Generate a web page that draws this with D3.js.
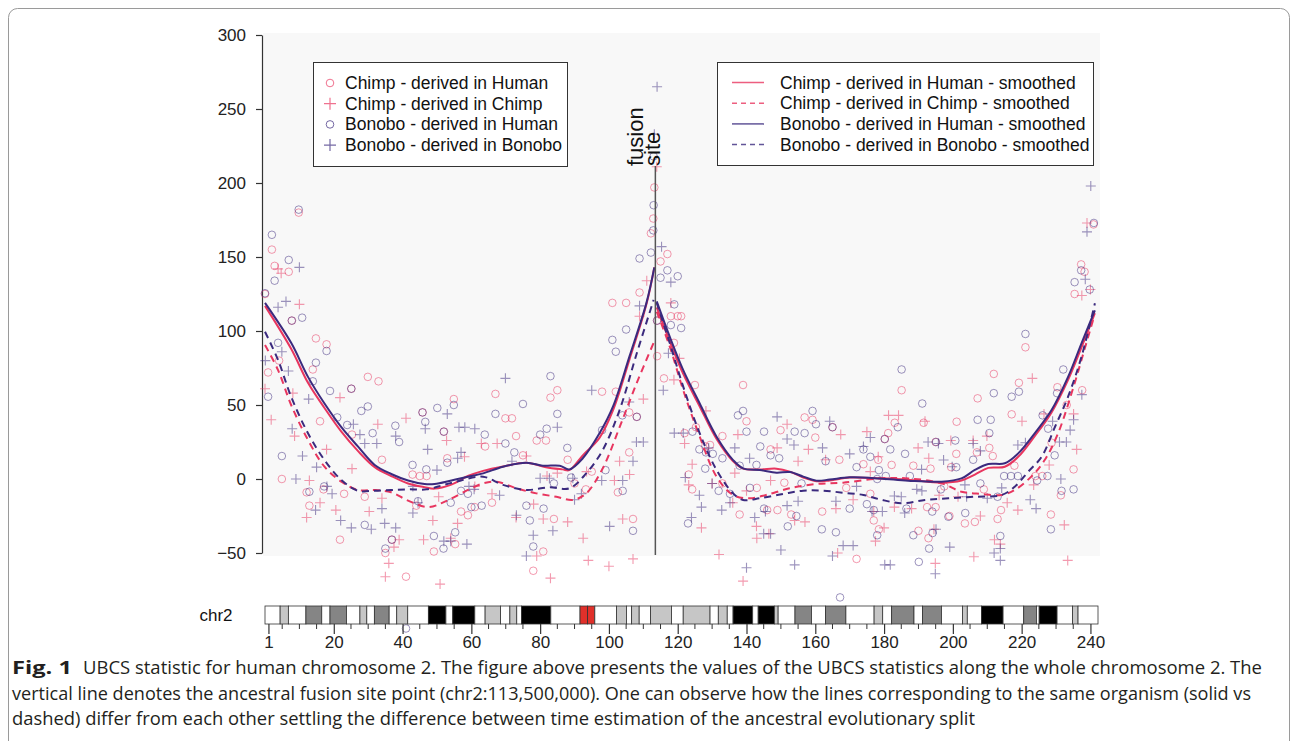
<!DOCTYPE html>
<html><head><meta charset="utf-8">
<script src="https://cdn.jsdelivr.net/npm/d3@7"></script>
<style>
body{margin:0;background:#fff;}
svg{display:block;}
</style></head>
<body>
<svg id="chart" width="1295" height="741"></svg>
<script>
// ---------- data ----------
const yTicks = [-50, 0, 50, 100, 150, 200, 250, 300];
const xMajorTicks = [1, 20, 40, 60, 80, 100, 120, 140, 160, 180, 200, 220, 240];
const fusionSite = 113.5;
const chromLength = 242.2;

// [position (Mb), UBCS value]
const chimpDerivedHuman = [
[9.8,180],[2,155],[2.8,144],[6.9,140],[0,125],[7.8,107],[14.8,95],[17.9,91],[4.1,80],[13.9,74],[0.9,72],[29.9,69],[33,66],[25.1,61],[16,39],[25.3,30],[4.9,0],[34,13],[42.9,3],[45.8,45],[54.9,54],[52,32],[53,14],[45,2],[47,2],[36.9,-41],[35,-50],[41,-66],[21.8,-41],[29,-12],[49.1,-49],[55.3,-44],[12.9,-18],[12.1,-9],[23,-10],[17,-7],[44,-18],[57,-22],
[83,55],[85,60],[69.9,41],[71.8,41],[67,57.5],[73,29],[79,26],[81.7,26],[88,13],[66,-16],[61,-19],[59,-24.5],[84,-27],[80.9,-49],[78,-62],[93.3,-7],[101,119],[105,119],[98,59],[102,59],[105.9,45],[108.1,42],[105.9,18],[102.6,-9],[107,-27],[112.9,176],[112.2,166],[113.2,197],[108.9,126],[64,22],[75,16],[90,-3],[95,5],
[115,147],[117,152],[118,110],[120,110],[121,110],[114,107],[118.9,92],[114,83],[116,68],[125,63.5],[122,31],[125.3,35],[129.4,23],[123.2,3],[124.2,-7],[133,29],[138,-24],[139,63.5],[140,39],[149,-21],[149.9,33],[156.9,41.6],[159.2,40],[160,28],[165,35],[151,-2.5],[153,-24],[162,-22],[172,-54],[169,-6],[167,13],[174,10],[176,-10],[177,-28],[146,-21],[143,-6],[147,20],[133,-3],[128,22],
[185.1,60],[211.9,71],[219.2,65],[207.2,54.5],[217.1,43.7],[201.1,38.7],[183.1,38],[181.2,31],[180.2,27],[182.2,9.5],[178.3,13],[191.5,38],[195,25],[201,17],[207,18],[210.6,21],[211.6,15.5],[209,-7],[221.1,89],[228.7,24.5],[230.4,62],[233.1,50],[237.6,60],[235.1,6.5],[231.4,-11],[228.5,-24],[237.3,145],[238.3,140],[235.4,125],[240.9,172],[217.9,9],[214,-21],[213,-27],[206.4,-29],[203.5,-30],[199,-25],[195,-19],[192.5,-19],[192.9,-40],[190,-35],[178.5,-34],[188.5,9],[193.5,7],[197.5,-5],[199.5,8],[224,2],[226,2]
];
const chimpDerivedChimp = [
[4.7,139],[10,118],[3.8,142],[0,61],[1.8,40],[8.6,29],[8.1,58],[21.8,55],[17.9,20],[12.9,-1],[16,-16],[12.1,-26],[20.6,-21],[25.3,7],[32.8,37],[41,41],[30.3,-22],[34,-13],[36,-57],[35,-66],[39,-41],[46.1,-41],[48.8,-28],[50.9,-71],[54,-40],[58,15],[52.8,26],[56,-30],[37.5,-46],[50.5,-12],
[111,134],[110,54],[108.9,110],[113.9,211],[103.1,12],[106,3],[101.6,-1],[104,-27],[100,-59],[107,-54],[62.9,24],[67.5,24],[76,15.5],[73,-26],[78.1,-17],[80.9,-27],[88,-29],[79,-52],[83,-67],[93.5,5],[82,2],[85,4],[61,-5],[66,-10],[92.5,-40],[94,-55],
[118,119],[120.5,81.5],[118.9,67],[122,24],[128.2,46],[124.2,10],[123.2,-4],[126.9,-33],[130,-3],[132,-51],[139,-69],[137.5,30],[136.6,4],[136,-16],[140,-8],[142.9,-32],[143,-40],[147,-1],[148.9,21],[151.8,37],[146.5,-37],[154,-28],[157,-29],[155,12],[158,20],[163,13],[166,-20],[166.5,-50],[167.4,30],[175,32],[176,5],[177,-22],[177.5,-42],[171,-14],
[239,173],[237.5,124],[240,128],[223.1,68],[220.1,39],[181.3,43],[184.2,43],[191.9,39],[178.3,15],[189.9,21],[193,14],[199.4,26],[205.9,26],[209.9,29],[228,9.5],[232.4,-31],[233.4,-55],[218.9,-21],[215.8,-16],[212.1,-41],[213.8,-44],[206.1,-52.5],[194.9,-57],[194.5,-34],[180,-33],[183,-19],[188,-20],[196,-11],[201.5,-12],[208,-25],[226.5,44],[223.5,-4],[235.1,44],[236,20]
];
const bonoboDerivedHuman = [
[9.8,182],[2,165],[6.9,148],[2.8,134],[0,125.5],[7.8,107],[10.8,109],[17.9,86.5],[3.8,92],[14.8,78.6],[13.9,66],[0.9,55.6],[18.9,59.5],[25.1,61],[21,41.6],[28,46],[29.9,49],[23.9,36.5],[4.9,15.5],[31.3,31],[37.9,36],[39,25],[42.9,9.5],[45.8,45],[46.6,38.6],[50.1,48],[54.9,50],[52,32],[53,11],[46.9,6.5],[36.9,-41],[35,-47],[29,-31],[49.1,-38.5],[51.9,-47],[55.3,-36],[12.9,-8.6],[17.2,-5],[54,-16],[44.5,-15],[57,-8],[41,-101],
[83,69.5],[85,44],[67,44],[75,50.7],[63.9,30],[80,30],[81.9,34],[87.9,21],[69.9,24],[72.5,18],[59,-10],[63,-18],[76,-18],[77,-28],[81,-20],[78,-45.6],[84,-3],[89,1],[101,94],[102,86],[105,101],[103.9,43],[108.1,42],[98,33],[99,6],[107,-35],[113,218],[112.9,168],[112.2,153],[108.9,149],[104,-8],[60,-19],
[113,185],[117,141],[115,136],[120,137],[119,118],[118,104],[121,102],[114,107],[124.3,32],[126.3,20],[128.2,18],[128,7],[130.2,17],[133,14],[131.9,-8],[123,-30],[135.2,-10],[139,46],[137.5,43],[140,32],[138,9],[142.9,9.5],[141,-6],[145.1,-20],[145.1,32],[144,22],[147,16],[149.5,14],[154,32],[156.9,31],[159.2,46],[160.2,37],[165,35],[163,12],[156,-3],[154.5,-25],[152,-32],[161.9,-34],[166,-36],[167.2,-80],[170,-20],[172,8],[174,20],[176,15],[178,0],[177,-21],[175,-17],
[185.1,74],[211.9,58],[219.2,59],[217.1,55.6],[191.1,51],[207.2,40],[211,40],[184,35],[186.1,17],[180.2,27],[181.8,20],[178.5,6],[195.1,25],[200.7,26],[205.9,13],[210.6,31],[201,8],[208,-3],[213,-12],[226.1,43],[227.7,34],[229.6,16],[232.1,74],[230.3,58],[221.1,98],[231.6,-8],[235.1,-7],[228.5,-34],[237.3,141],[235.4,133],[241,173],[239.8,128],[224.5,-1],[227.5,2],[214.9,2],[216.9,2],[218.9,2],[213.8,-38.5],[203.6,-23],[198.7,-25.5],[194,-22],[194.1,-36.5],[193.1,-47],[190.1,-56],[188.5,-38],[186.5,-20],[178,-38],[180.5,2],[187.5,2],[196.5,-7]
];
const bonoboDerivedBonobo = [
[10,143],[3.8,116],[6.1,120],[4.9,86],[0.1,80],[6.8,73],[12.7,54],[7.9,34],[10.9,15.5],[15,8],[9,0],[14.7,-21],[22,-28],[25.1,-33],[30.9,-34],[34.8,-30],[34,-20],[27.6,30],[29,24],[32.5,24],[25.7,37],[38,29],[43,-5],[47.3,20],[46.6,34],[53,44],[56.4,35],[58.1,35],[57,18],[56,14],[52,-42],[54,-42],[50,6],[43,-23],[44.5,-16],[18,-5],[19.5,-10],[38,-33],
[69.9,68],[95,60],[105.9,52],[108,25],[110,25],[107,12],[104,-1],[100.2,-32],[113.2,233],[114,265],[108.9,117],[61,34],[85,35],[71.8,12],[59.3,-5],[60.8,-7],[68.2,-11],[58.7,-44],[73.1,-24.5],[83.7,-35],[78,-38],[76,-52],[80,0.5],[82.7,0.5],[89.5,0.5],[97.9,-1],[90,-14],[92,-10],
[115.3,157],[118,133],[117.3,85],[115.8,60],[119,31],[121.6,31],[122.2,1],[126.3,-11],[126.9,-19],[124,-26],[132.8,-21],[135.2,-16],[140,-60],[136.6,21],[140.9,14],[142.4,-26],[145,-37],[147,-37],[145.5,-22],[148.9,42],[151.8,27],[153.8,23],[151.8,-18],[155,-15],[164.2,39],[162.1,21],[165,-52],[168.1,-45],[171,-45],[154,-58],[150,-48],[166,-15],[170,17],[172,-5],[174,22],[176,28],[176.5,-22],[129,21],[130,-3],
[240.1,198],[239,167],[238.5,135],[235.1,40],[237.5,57],[234.1,33],[233,25],[231,25],[229,39],[221.1,24.5],[218.9,23],[231.4,0],[224.2,-20],[222.5,-14],[214.2,-6],[213.8,-47],[212,-50],[213.8,-55],[210,-13],[204,-12],[192.8,25],[195.8,24],[190.9,6.5],[197.3,12.8],[199.8,8.3],[205.9,24],[208,19],[180.2,-58],[181.8,-58],[195.1,-34],[194.9,-64],[199.1,-46],[183,-11.5],[185,-12],[191,-8],[189.5,-7],[179.5,-22],[186,-23],[203.5,-4]
];

// smoothed curves, null separates the two chromosome arms
const chimpHumanSmooth = [
[0,117],[7.6,88],[12.5,65],[17.3,48],[22.2,32],[27,19],[31.9,8],[36.7,2],[41.6,-3],[46.4,-5.5],[49.3,-6.5],[54,-4],[59,2],[63.4,5.5],[69.2,8.5],[76,11],[81.7,8],[86.5,6.5],[88.5,6],[92.4,16],[97.3,28],[101.2,46.5],[106,81],[110.9,118],[113.2,143],
null,
[113.9,116],[117.7,93],[121.6,71],[126.4,49],[131.3,27],[136.1,12],[139,7],[143.9,6.5],[148.7,7],[152.6,5],[156.5,1],[160.3,-1.5],[164.2,-1],[170,1],[178.7,0.5],[187,-0.5],[196.7,-2.5],[202.5,-1],[206.4,3],[210.3,7.5],[215.1,8.3],[219,15],[223.8,29],[228.7,45],[233.5,67],[237.4,89],[241.3,112]
];
const bonoboHumanSmooth = [
[0,119],[7.6,92],[12.5,69],[17.3,51],[22.2,35],[27,22],[31.9,9.5],[36.7,3.4],[41.6,-1],[46.4,-3.4],[49.3,-3.4],[54.2,-1],[59,1.5],[63.4,3.8],[69.2,8.3],[76,11],[80.8,9],[85.7,9],[88.5,6.5],[92.4,14],[97.3,31],[101.2,49],[106,83],[110.9,119],[113.2,143],
null,
[113.9,120],[117.7,96],[121.6,73.6],[126.4,51],[131.3,28.6],[136.1,12.8],[139,7.2],[143.9,6.1],[148.7,4.3],[152.6,4.7],[156.5,1.6],[160.3,-1.1],[164.2,-0.4],[170,1.1],[178.7,0.4],[187,-1.1],[196.7,-1.8],[202.5,0.4],[206.4,6.1],[210.3,10.1],[215.1,10.6],[219,17.3],[223.8,30.9],[228.7,46.6],[233.5,69],[237.4,91.7],[241.3,114]
];
const chimpChimpSmooth = [
[0,90.5],[3.8,73.6],[7.6,50],[12.5,26.4],[17.3,8.3],[22.2,-1.8],[27,-7.4],[31.9,-7.4],[36.7,-9],[41.6,-14.6],[47.4,-19],[52.3,-15.3],[59,-7.4],[63.4,-3],[67.3,-1.8],[73.1,-6.3],[78.9,-9.7],[84.7,-12],[89.5,-14.2],[93.4,-9.7],[98.2,7.2],[103.1,35],[108.1,65],[113,92],
null,
[113.9,113],[117.7,89.4],[121.6,60],[126.4,28.6],[131.3,1.6],[136.1,-10.8],[140.9,-13],[145.7,-10.8],[152.5,-6.3],[160.3,-3.4],[168.1,-2.5],[178.7,0.4],[187,0.4],[196.7,-2.9],[202.5,-8.6],[208.3,-10.1],[214.2,-10.8],[218,-7.4],[222.8,1.6],[226.7,12.8],[230.6,30.9],[235.4,64.7],[238.3,87.8],[241.1,110]
];
const bonoboBonoboSmooth = [
[0,99.5],[3.8,80.4],[7.6,55.6],[12.5,30.9],[17.3,12.8],[22.2,-0.7],[27,-7.9],[31.9,-7.9],[36.7,-7.4],[41.6,-7],[47,-7],[52,-4],[57,-1],[63.4,1.6],[69.2,-4],[76,-7.4],[82.7,-5.6],[88.5,-6.3],[93.4,3.8],[98.2,19.6],[103.1,46.6],[108.1,85],[113,121],
null,
[113.9,119],[117.7,91.7],[121.6,62.4],[126.4,30.9],[131.3,6.1],[136.1,-9.7],[139,-14.2],[143.9,-13],[150.6,-10.1],[156.5,-7.9],[162.3,-7.9],[168.1,-9.3],[174,-10.8],[178.7,-13.7],[185,-16.4],[191.9,-14.2],[198.7,-13],[206.4,-12],[214.2,-10.8],[218,-5.2],[221.9,4.9],[225.8,15],[229.7,35.3],[233.5,55.6],[237.4,82.6],[241.3,118.7]
];

// chromosome 2 bands: [start Mb, end Mb, stain]
const bands = [
[0,4.4,"w"],[4.4,6.8,"l"],[6.8,11.9,"w"],[11.9,16.5,"m"],[16.5,18.9,"w"],[18.9,23.7,"m"],[23.7,27.6,"w"],[27.6,29.6,"l"],[29.6,31.8,"w"],[31.8,36.1,"m"],[36.1,38.3,"w"],[38.3,41.5,"l"],[41.5,47.5,"w"],[47.5,52.6,"b"],[52.6,54.6,"w"],[54.6,61,"b"],[61,64,"w"],[64,68.5,"l"],[68.5,71.2,"w"],[71.2,73.2,"l"],[73.2,74.6,"w"],[74.6,83.1,"b"],[83.1,91.6,"w"],[91.6,93.8,"r"],[93.8,95.9,"r"],[95.9,102.2,"w"],[102.2,105.1,"l"],[105.1,106.6,"w"],[106.6,108.8,"l"],[108.8,112.1,"w"],[112.1,118.2,"l"],[118.2,121.6,"w"],[121.6,129.4,"l"],[129.4,131.8,"w"],[131.8,134.4,"l"],[134.4,136.1,"w"],[136.1,141.8,"b"],[141.8,143.4,"w"],[143.4,148.1,"b"],[148.1,149.2,"l"],[149.2,154.1,"w"],[154.1,158.9,"m"],[158.9,163,"w"],[163,168.9,"m"],[168.9,177.1,"w"],[177.1,179.6,"l"],[179.6,182.2,"w"],[182.2,188.7,"m"],[188.7,191.2,"w"],[191.2,196.7,"m"],[196.7,202.8,"w"],[202.8,204.2,"l"],[204.2,208.3,"w"],[208.3,214.6,"b"],[214.6,220.6,"w"],[220.6,224.3,"m"],[224.3,225.1,"w"],[225.1,230.3,"b"],[230.3,234.8,"w"],[234.8,236.4,"l"],[236.4,242.2,"w"]
];

const pointLegend = ["Chimp - derived in Human","Chimp - derived in Chimp","Bonobo - derived in Human","Bonobo - derived in Bonobo"];
const lineLegend = ["Chimp - derived in Human - smoothed","Chimp - derived in Chimp - smoothed","Bonobo - derived in Human - smoothed","Bonobo - derived in Bonobo - smoothed"];
const captionLines = [
 "UBCS statistic for human chromosome 2. The figure above presents the values of the UBCS statistics along the whole chromosome 2. The",
 "vertical line denotes the ancestral fusion site point (chr2:113,500,000). One can observe how the lines corresponding to the same organism (solid vs",
 "dashed) differ from each other settling the difference between time estimation of the ancestral evolutionary split"
];

// ---------- drawing ----------
const CHIMP = "#e8365f", BONOBO = "#3b2a7e";
const svg = d3.select("#chart");
const FONT = '"Liberation Sans", Arial, Helvetica, sans-serif';

svg.append("rect").attr("x",8.5).attr("y",8.5).attr("width",1281).attr("height",780)
  .attr("rx",9).attr("fill","none").attr("stroke","#9a9a9a").attr("stroke-width",1);

const x = d3.scaleLinear().domain([0, chromLength]).range([265, 1098]);
const y = d3.scaleLinear().domain([-50, 300]).range([553, 35]);

svg.append("rect").attr("x",263).attr("y",33).attr("width",837).attr("height",523).attr("fill","#f8f8f8");

// y axis
const yAx = svg.append("g").attr("transform","translate(262,0)")
  .call(d3.axisLeft(y).tickValues(yTicks).tickSize(6).tickPadding(10).tickSizeOuter(0));
yAx.selectAll("path,line").attr("stroke","#333").attr("stroke-width",1.2);
yAx.selectAll("text").style("font-family",FONT).style("font-size","17px").attr("fill","#222");

// points
const g = svg.append("g");
function circles(data, col){
  g.selectAll(null).data(data).enter().append("circle")
   .attr("cx",d=>x(d[0])).attr("cy",d=>y(d[1])).attr("r",3.8)
   .attr("fill","none").attr("stroke",col).attr("stroke-width",1).attr("stroke-opacity",0.5);
}
function crosses(data, col){
  g.selectAll(null).data(data).enter().append("path")
   .attr("d",d=>`M${x(d[0])-5},${y(d[1])}h10M${x(d[0])},${y(d[1])-5}v10`)
   .attr("stroke",col).attr("stroke-width",1.1).attr("stroke-opacity",0.5).attr("fill","none");
}
circles(chimpDerivedHuman, CHIMP);
crosses(chimpDerivedChimp, CHIMP);
circles(bonoboDerivedHuman, BONOBO);
crosses(bonoboDerivedBonobo, BONOBO);

// smoothed lines
const line = d3.line().defined(d=>d!==null).x(d=>x(d[0])).y(d=>y(d[1])).curve(d3.curveCatmullRom.alpha(0.5));
function smooth(data,col,dash){
  svg.append("path").datum(data).attr("d",line).attr("fill","none").attr("stroke",col)
    .attr("stroke-width",2).attr("stroke-dasharray",dash?"7,5":null);
}
smooth(chimpHumanSmooth, CHIMP, false);
smooth(chimpChimpSmooth, CHIMP, true);
smooth(bonoboHumanSmooth, BONOBO, false);
smooth(bonoboBonoboSmooth, BONOBO, true);

// fusion site
svg.append("line").attr("x1",x(fusionSite)).attr("x2",x(fusionSite)).attr("y1",166).attr("y2",y(-50)+2)
  .attr("stroke","#555").attr("stroke-width",1.5);
const ft = svg.append("text").attr("transform",`translate(${x(fusionSite)-12},166) rotate(-90)`)
  .style("font-family",FONT).style("font-size","22px").attr("fill","#111");
ft.append("tspan").attr("x",0).attr("y",0).text("fusion");
ft.append("tspan").attr("x",0).attr("y",17).text("site");

// legend 1
const l1 = svg.append("g");
l1.append("rect").attr("x",313.5).attr("y",62.5).attr("width",254).attr("height",104).attr("fill","#fff").attr("stroke","#333");
pointLegend.forEach((t,i)=>{
  const cy = 83 + i*20.7, col = i<2?CHIMP:BONOBO;
  if(i%2===0) l1.append("circle").attr("cx",330).attr("cy",cy).attr("r",3.8).attr("fill","none").attr("stroke",col).attr("stroke-opacity",0.7);
  else l1.append("path").attr("d",`M${324},${cy}h12M${330},${cy-6}v12`).attr("stroke",col).attr("stroke-opacity",0.7).attr("stroke-width",1.2);
  l1.append("text").attr("x",345).attr("y",cy+6).text(t).style("font-family",FONT).style("font-size","17.5px").attr("fill","#111");
});
// legend 2
const l2 = svg.append("g");
l2.append("rect").attr("x",717.5).attr("y",62.5).attr("width",376).attr("height",103).attr("fill","#fff").attr("stroke","#333");
lineLegend.forEach((t,i)=>{
  const cy = 82.5 + i*20.7, col = i<2?CHIMP:BONOBO;
  l2.append("line").attr("x1",732).attr("x2",764).attr("y1",cy).attr("y2",cy).attr("stroke",col).attr("stroke-width",1.5)
    .attr("stroke-dasharray",i%2?"5,4":null).attr("stroke-opacity",0.8);
  l2.append("text").attr("x",780).attr("y",cy+6).text(t).style("font-family",FONT).style("font-size","17.5px").attr("fill","#111");
});

// ideogram
const ig = svg.append("g");
const stainCol = {w:"#ffffff", l:"#c6c6c6", m:"#858585", b:"#000000", r:"#e0302a"};
ig.selectAll("rect").data(bands).enter().append("rect")
  .attr("x",d=>x(d[0])).attr("width",d=>x(d[1])-x(d[0])).attr("y",606).attr("height",18)
  .attr("fill",d=>stainCol[d[2]]).attr("stroke","#333").attr("stroke-width",0.8);
svg.append("text").attr("x",216).attr("y",621).attr("text-anchor","middle").text("chr2")
  .style("font-family",FONT).style("font-size","17px").attr("fill","#111");
const minor = d3.range(5, 241, 5).filter(v=>v%20!==0);
ig.selectAll(".mn").data(minor).enter().append("line").attr("x1",d=>x(d)).attr("x2",d=>x(d))
  .attr("y1",624).attr("y2",629).attr("stroke","#333");
const xAx = svg.append("g").attr("transform","translate(0,624)")
  .call(d3.axisBottom(x).tickValues(xMajorTicks).tickFormat(d3.format("d")).tickSize(10).tickPadding(2).tickSizeOuter(0));
xAx.select(".domain").remove();
xAx.selectAll("line").attr("stroke","#333").attr("stroke-width",1.2);
xAx.selectAll("text").style("font-family",FONT).style("font-size","17px").attr("fill","#222");

// caption
const CAP = '"Open Sans","Noto Sans",Arial,sans-serif';
const cap = svg.append("g").style("font-family",CAP).style("font-size","18px").attr("fill","#231f20");
cap.append("text").attr("x",12).attr("y",674).style("font-weight","bold").attr("textLength",60).attr("lengthAdjust","spacingAndGlyphs").text("Fig. 1");
const capX = [83, 12, 12], capEnd = [1262, 1251, 975], capY = [674, 700, 725];
captionLines.forEach((t,i)=>{
  cap.append("text").attr("x",capX[i]).attr("y",capY[i]).attr("textLength",capEnd[i]-capX[i])
    .attr("lengthAdjust","spacingAndGlyphs").text(t);
});
</script>
</body></html>
